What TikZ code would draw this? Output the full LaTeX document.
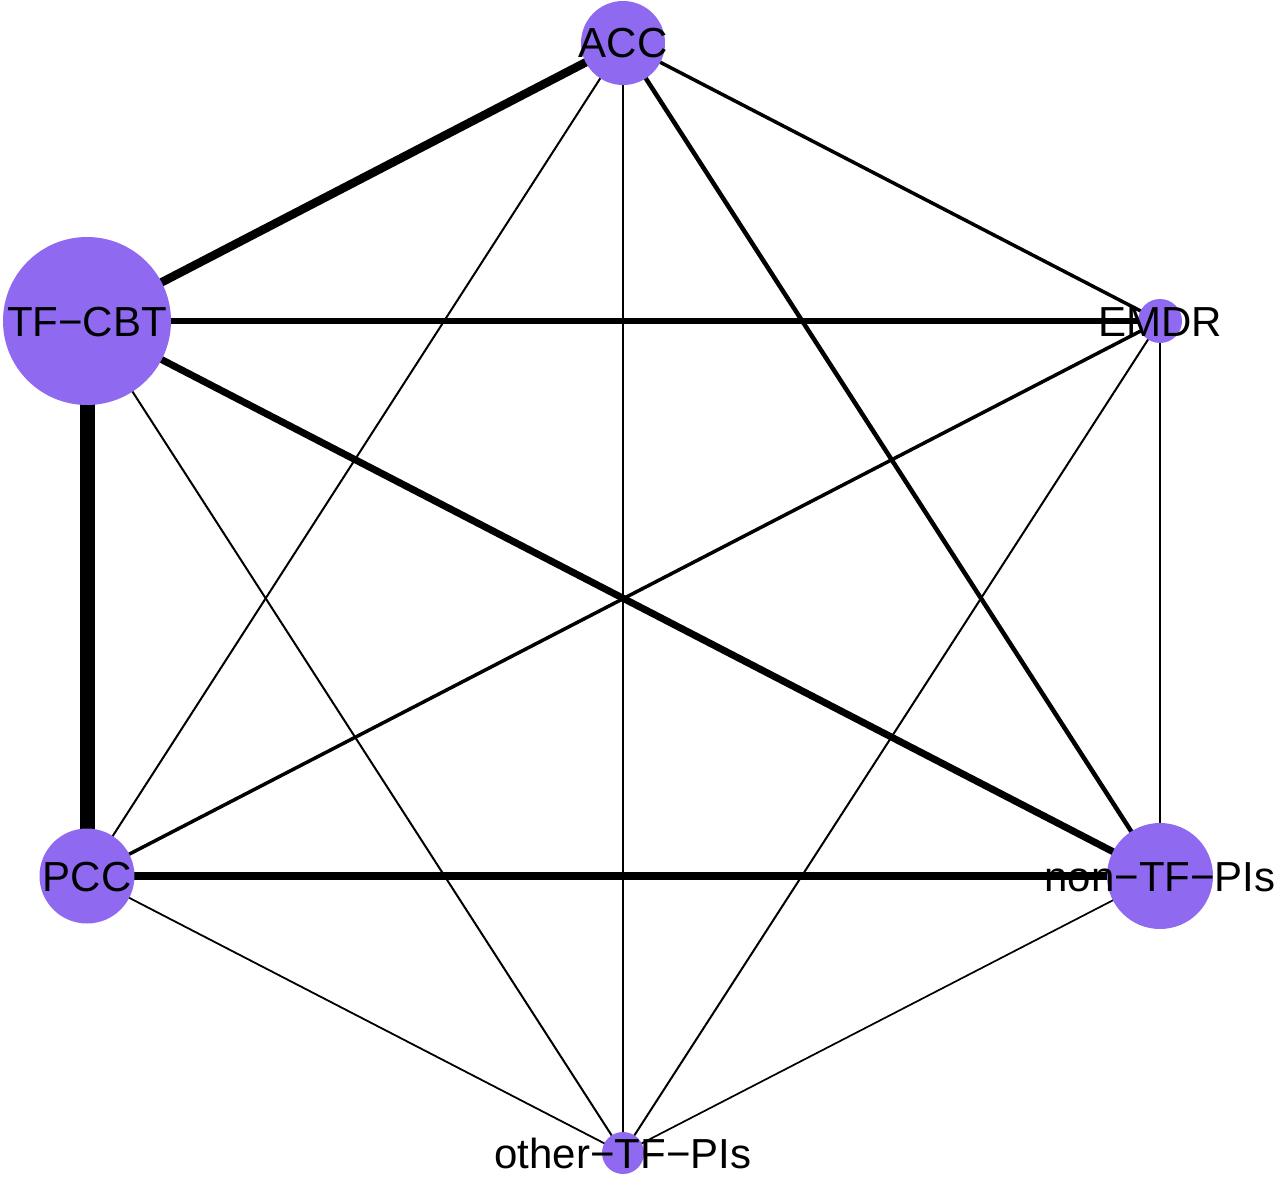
\documentclass[tikz,border=0pt]{standalone}
\usepackage{fontspec}
\setmainfont{Liberation Sans}
\definecolor{vfill}{RGB}{143,106,240}
\begin{document}
\begin{tikzpicture}[x=1pt,y=-1pt,
  vert/.style={circle,fill=vfill,draw=none,inner sep=0pt,minimum size=#1},
  lab/.style={inner sep=0pt,text height=30pt,text depth=0pt,font=\fontsize{42}{42}\selectfont,text=black},
  edge/.style={draw=black,line width=#1}]
\useasboundingbox (0,0) rectangle (1280,1177);
\coordinate (acc) at (623,43);
\coordinate (emdr) at (1160,321);
\coordinate (non) at (1160,876);
\coordinate (oth) at (623,1153);
\coordinate (pcc) at (87,876);
\coordinate (tf) at (87,321);
% edges
\draw[edge=15pt] (tf) -- (pcc);
\draw[edge=8.5pt] (acc) -- (tf);
\draw[edge=8pt] (pcc) -- (non);
\draw[edge=6.5pt] (tf) -- (emdr);
\draw[edge=7pt] (tf) -- (non);
\draw[edge=4.5pt] (acc) -- (non);
\draw[edge=3.5pt] (acc) -- (emdr);
\draw[edge=3.5pt] (emdr) -- (pcc);
\draw[edge=2.6pt] (acc) -- (oth);
\draw[edge=2.2pt] (emdr) -- (non);
\draw[edge=2pt] (acc) -- (pcc);
\draw[edge=2pt] (tf) -- (oth);
\draw[edge=2pt] (emdr) -- (oth);
\draw[edge=1.8pt] (pcc) -- (oth);
\draw[edge=1.7pt] (non) -- (oth);
% vertices
\node[vert=84pt] (accV) at (acc) {};
\node[vert=44pt] (emdrV) at (emdr) {};
\node[vert=106pt] (nonV) at (non) {};
\node[vert=42pt] (othV) at (oth) {};
\node[vert=95pt] (pccV) at (pcc) {};
\node[vert=168pt] (tfV) at (tf) {};
% labels
\node[lab] (accL) at (acc) {ACC};
\node[lab] (emdrL) at (emdr) {EMDR};
\node[lab] (nonL) at (non) {non−TF−PIs};
\node[lab] (othL) at (oth) {other−TF−PIs};
\node[lab] (pccL) at (pcc) {PCC};
\node[lab] (tfL) at (tf) {TF−CBT};
\end{tikzpicture}
\end{document}
